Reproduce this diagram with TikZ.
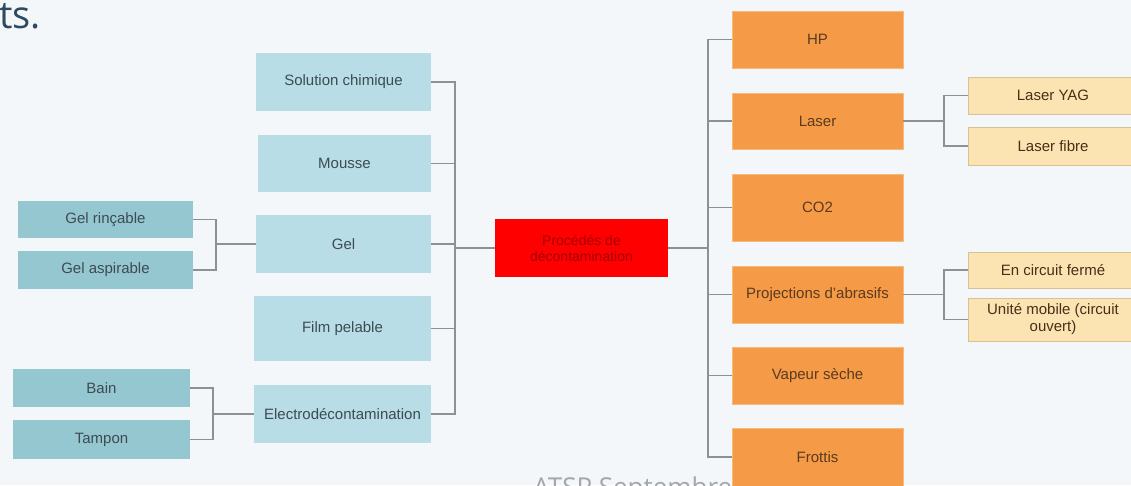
\documentclass[tikz,border=0pt]{standalone}
\usepackage{fontspec}
\setmainfont{Liberation Sans}
\newfontfamily\slidefont{Open Sans}
\usepackage{tikz}

\definecolor{bgcol}{HTML}{F3F7FA}
\definecolor{softblue}{HTML}{B8DDE7}
\definecolor{tealbox}{HTML}{95C7D1}
\definecolor{orangebox}{HTML}{F59B48}
\definecolor{creambox}{HTML}{FCE4B2}
\definecolor{linkcol}{HTML}{8C9196}
\definecolor{darktxt}{HTML}{3D4B52}
\definecolor{browntxt}{HTML}{5B3A1E}
\definecolor{redtxt}{HTML}{A30000}
\definecolor{titlecol}{HTML}{2E4A63}

\tikzset{
  box/.style={rectangle, inner sep=0pt, align=center,
    font=\fontsize{15}{17}\selectfont},
  methodbox/.style={box, fill=softblue, text=darktxt},
  subbox/.style={box, fill=tealbox, text=darktxt},
  techbox/.style={box, fill=orangebox, draw=orangebox!70!white, line width=0.6pt,
    text=browntxt, minimum width=171pt},
  variantbox/.style={box, fill=creambox, draw=creambox!85!black, line width=0.6pt,
    text=browntxt!80!black, minimum width=170pt},
  rootbox/.style={box, fill=red, text=redtxt, font=\fontsize{14}{16}\selectfont},
  link/.style={draw=linkcol, line width=1.4pt}
}

\begin{document}
\begin{tikzpicture}[x=1pt,y=-1pt]
\fill [bgcol] (0,0) rectangle (1131,485);
\useasboundingbox (0,0) rectangle (1131,485);

% slide leftovers
\node [anchor=base west, inner sep=0pt, text=titlecol,
  font=\slidefont\fontsize{38}{40}\selectfont] (title) at (-1,28) {ts.};
\node [anchor=base west, inner sep=0pt, text=linkcol!80,
  font=\slidefont\fontsize{26}{28}\selectfont] (footer) at (533,496) {ATSP Septembre};

% root
\node [rootbox, minimum width=173pt, minimum height=58pt] (root) at (581.5,248)
  {Procédés de\\décontamination};

% left branch
\node [methodbox, minimum width=175pt, minimum height=58pt] (sol) at (343.5,82) {Solution chimique};
\node [methodbox, minimum width=173pt, minimum height=57pt] (mousse) at (344.5,163.5) {Mousse};
\node [methodbox, minimum width=175pt, minimum height=58pt] (gel) at (343.5,244) {Gel};
\node [methodbox, minimum width=177pt, minimum height=65pt] (film) at (342.5,328.5) {Film pelable};
\node [methodbox, minimum width=177pt, minimum height=58pt] (electro) at (342.5,414) {Electrodécontamination};

\node [subbox, minimum width=175pt, minimum height=37pt] (rincable) at (105.5,219.5) {Gel rinçable};
\node [subbox, minimum width=175pt, minimum height=38pt] (aspirable) at (105.5,270) {Gel aspirable};
\node [subbox, minimum width=177pt, minimum height=38pt] (bain) at (101.5,388) {Bain};
\node [subbox, minimum width=177pt, minimum height=39pt] (tampon) at (101.5,439.5) {Tampon};

% right branch
\node [techbox, minimum height=57pt] (hp) at (817.5,39.5) {HP};
\node [techbox, minimum height=56pt] (laser) at (817.5,121) {Laser};
\node [techbox, minimum height=67pt] (co2) at (817.5,207.5) {CO2};
\node [techbox, minimum height=57pt] (proj) at (817.5,294.5) {Projections d'abrasifs};
\node [techbox, minimum height=57pt] (vapeur) at (817.5,375.5) {Vapeur sèche};
\node [techbox, minimum height=58pt] (frottis) at (817.5,457) {Frottis};

\node [variantbox, minimum height=37pt] (yag) at (1053,95.5) {Laser YAG};
\node [variantbox, minimum height=38pt] (fibre) at (1053,146) {Laser fibre};
\node [variantbox, minimum height=36pt] (ferme) at (1053,270) {En circuit fermé};
\node [variantbox, minimum height=43pt] (mobile) at (1053,319.5) {Unité mobile (circuit\\ouvert)};

% bracket points
\coordinate (lb) at (455,248);
\coordinate (rb) at (708,248);
\coordinate (gb) at (216,244);
\coordinate (eb) at (213,414);
\coordinate (lab) at (944,121);
\coordinate (pab) at (944,294.5);

% connectors
\foreach \n in {sol,mousse,gel,film,electro}
  \draw [link] (\n.east) -| (lb);
\draw [link] (lb) -- (root.west);
\draw [link] (root.east) -- (rb);
\foreach \n in {hp,laser,co2,proj,vapeur,frottis}
  \draw [link] (rb) |- (\n.west);
\draw [link] (rincable.east) -| (gb);
\draw [link] (aspirable.east) -| (gb);
\draw [link] (gb) -- (gel.west);
\draw [link] (bain.east) -| (eb);
\draw [link] (tampon.east) -| (eb);
\draw [link] (eb) -- (electro.west);
\draw [link] (laser.east) -- (lab);
\draw [link] (lab) |- (yag.west);
\draw [link] (lab) |- (fibre.west);
\draw [link] (proj.east) -- (pab);
\draw [link] (pab) |- (ferme.west);
\draw [link] (pab) |- (mobile.west);
\end{tikzpicture}
\end{document}
